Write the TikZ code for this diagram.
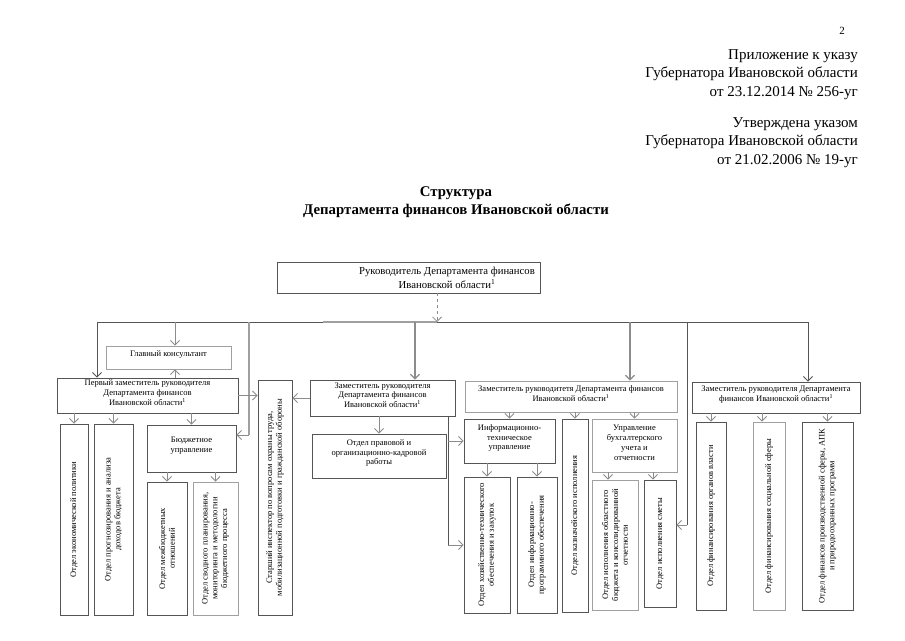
\documentclass[tikz,border=0pt]{standalone}
\usepackage{fontspec}
\setmainfont{Liberation Serif}
\usetikzlibrary{arrows.meta,fit}
\definecolor{dk}{HTML}{555555}
\definecolor{lt}{HTML}{A0A0A0}
\definecolor{ar}{HTML}{8C8C8C}
\begin{document}
\begin{tikzpicture}[x=1pt,y=-1pt,
 bx/.style={draw=dk, line width=0.9pt, inner sep=0pt, align=center, font=\fontsize{8.5}{9.8}\selectfont},
 bxl/.style={bx, draw=lt},
 vt/.style={rotate=90, align=center, inner sep=0pt, font=\fontsize{8.5}{9.8}\selectfont},
 arr/.style={draw=ar, line width=0.8pt, -{Straight Barb[length=4.5pt,width=9pt]}},
 ln/.style={draw=dk, line width=0.9pt},
 lnl/.style={draw=lt, line width=1.8pt},
 hdr/.style={anchor=east, align=right, inner sep=0pt, font=\fontsize{15}{18.5}\selectfont}]
\useasboundingbox[fill=white] (0,0) rectangle (905,640);

% header
\node[inner sep=0pt, font=\fontsize{11}{13}\selectfont] (pg) at (842,31) {2};
\node[hdr] (h1) at (858,74.5) {Приложение к указу\\Губернатора Ивановской области\\от 23.12.2014 № 256-уг};
\node[hdr] (h2) at (858,142.5) {Утверждена указом\\Губернатора Ивановской области\\от 21.02.2006 № 19-уг};
\node[inner sep=0pt, align=center, font=\bfseries\fontsize{14.8}{18}\selectfont] (title) at (456,202) {Структура\\Департамента финансов Ивановской области};

% top box
\node[bx, fit={(277,262) (540,293)}] (ruk) {};
\node[inner sep=0pt, align=center, font=\fontsize{10.7}{13.5}\selectfont] (ruktxt) at (447,278) {Руководитель Департамента финансов\\Ивановской области\textsuperscript{1}};

% left group
\node[bxl, fit={(106,346) (231,369)}] (gk) {Главный консультант};
\node[bx, fit={(57,378) (238,413)}] (fd) {Первый заместитель руководителя\\Департамента финансов\\Ивановской области\textsuperscript{1}};
\node[bx, fit={(60,424) (88,615)}] (eco) {};
\node[vt] at (eco.center) {Отдел экономической политики};
\node[bx, fit={(94,424) (133,615)}] (prog) {};
\node[vt] at (prog.center) {Отдел прогнозирования и анализа\\доходов бюджета};
\node[bx, fit={(147,425) (236,472)}] (bu) {Бюджетное\\управление};
\node[bx, fit={(147,482) (187,615)}] (mb) {};
\node[vt] at (mb.center) {Отдел межбюджетных\\отношений};
\node[bxl, fit={(193,482) (238,615)}] (sv) {};
\node[vt] at (sv.center) {Отдел сводного планирования,\\мониторинга и методологии\\бюджетного процесса};
\node[bx, fit={(258,380) (292,615)}] (insp) {};
\node[vt] at (insp.center) {Старший инспектор по вопросам охраны труда,\\мобилизационной подготовки и гражданской обороны};

% second deputy
\node[bx, fit={(310,380) (455,416)}] (z2) {Заместитель руководителя\\Департамента финансов\\Ивановской области\textsuperscript{1}};
\node[bx, fit={(312,434) (446,478)}] (pr) {Отдел правовой и\\организационно-кадровой\\работы};

% third deputy
\node[bxl, fit={(465,381) (677,412)}] (z3) {Заместитель руководитетя Департамента финансов\\Ивановской области\textsuperscript{1}};
\node[bx, fit={(464,419) (555,463)}] (it) {Информационно-\\техническое\\управление};
\node[bx, fit={(562,419) (588,612)}] (kaz) {};
\node[vt] at (kaz.center) {Отдел казначейского исполнения};
\node[bxl, fit={(592,419) (677,472)}] (bux) {Управление\\бухгалтерского\\учета и\\отчетности};
\node[bx, fit={(464,477) (510,613)}] (hoz) {};
\node[vt] at (hoz.center) {Отдел хозяйственно-технического\\обеспечения и закупок};
\node[bx, fit={(517,477) (557,613)}] (ip) {};
\node[vt] at (ip.center) {Отдел информационно-\\программного обеспечения};
\node[bxl, fit={(592,480) (638,610)}] (obl) {};
\node[vt] at (obl.center) {Отдел исполнения областного\\бюджета и консолидированной\\отчетности};
\node[bx, fit={(644,480) (676,607)}] (sm) {};
\node[vt] at (sm.center) {Отдел исполнения сметы};

% fourth deputy
\node[bx, fit={(692,382) (860,413)}] (z4) {Заместитель руководителя Департамента\\финансов Ивановской области\textsuperscript{1}};
\node[bx, fit={(696,422) (726,610)}] (ov) {};
\node[vt] at (ov.center) {Отдел финансирования органов власти};
\node[bxl, fit={(753,422) (785,610)}] (ss) {};
\node[vt] at (ss.center) {Отдел финансирования социальной сферы};
\node[bx, fit={(802,422) (853,610)}] (ps) {};
\node[vt] at (ps.center) {Отдел финансов производственной сферы, АПК\\и природоохранных программ};

% bus
\coordinate (busL) at (97,322);
\coordinate (busM) at (323,322);
\coordinate (bj) at (437,322);
\coordinate (busR) at (808,322);
\draw[ln] (busL) -- (busM);
\draw[lnl] (busM) -- (bj);
\draw[ln] (bj) -- (busR);
\draw[arr, dashed] (bj |- ruk.south) -- (bj);

% left drops
\draw[arr, draw=dk] (busL) -- (busL |- fd.north);
\coordinate (c175) at (175,322);
\draw[arr] (c175) -- (c175 |- gk.north);
\draw[arr] (c175 |- fd.north) -- (c175 |- gk.south);
\coordinate (c249) at (249,322);
\coordinate (c249b) at (249,435);
\draw[lnl] (c249) -- (c249b);
\draw[arr] (c249b) -- (c249b -| bu.east);
\draw[arr] (fd.east) -- (fd.east -| insp.west);
\draw[arr] (eco.north |- fd.south) -- (eco.north);
\draw[arr] (prog.north |- fd.south) -- (prog.north);
\draw[arr] (bu.north |- fd.south) -- (bu.north);
\draw[arr] (mb.north |- bu.south) -- (mb.north);
\draw[arr] (sv.north |- bu.south) -- (sv.north);

% second deputy connectors
\coordinate (c415) at (415,322);
\draw[arr, line width=1.2pt] (c415) -- (c415 |- z2.north);
\draw[arr] (z2.west) -- (z2.west -| insp.east);
\draw[arr] (pr.north |- z2.south) -- (pr.north);
\coordinate (vx) at (448,0);
\draw[ln] (vx |- z2.south) -- (vx |- hoz.west);
\draw[arr] (vx |- it.west) -- (it.west);
\draw[arr] (vx |- hoz.west) -- (hoz.west);

% third deputy connectors
\coordinate (c630) at (630,322);
\draw[arr, line width=1.2pt] (c630) -- (c630 |- z3.north);
\draw[arr] (it.north |- z3.south) -- (it.north);
\draw[arr] (kaz.north |- z3.south) -- (kaz.north);
\draw[arr] (bux.north |- z3.south) -- (bux.north);
\draw[arr] (hoz.north |- it.south) -- (hoz.north);
\draw[arr] (ip.north |- it.south) -- (ip.north);
\coordinate (a608) at (608,0);
\coordinate (a653) at (653,0);
\draw[arr] (a608 |- bux.south) -- (a608 |- obl.north);
\draw[arr] (a653 |- bux.south) -- (a653 |- sm.north);
\coordinate (c687) at (687,322);
\coordinate (c687b) at (687,525);
\draw[ln] (c687) -- (c687b);
\draw[arr] (c687b) -- (c687b -| sm.east);

% fourth deputy connectors
\draw[arr, draw=dk] (busR) -- (busR |- z4.north);
\coordinate (a762) at (762,0);
\draw[arr] (ov.north |- z4.south) -- (ov.north);
\draw[arr] (a762 |- z4.south) -- (a762 |- ss.north);
\draw[arr] (ps.north |- z4.south) -- (ps.north);
\end{tikzpicture}
\end{document}
